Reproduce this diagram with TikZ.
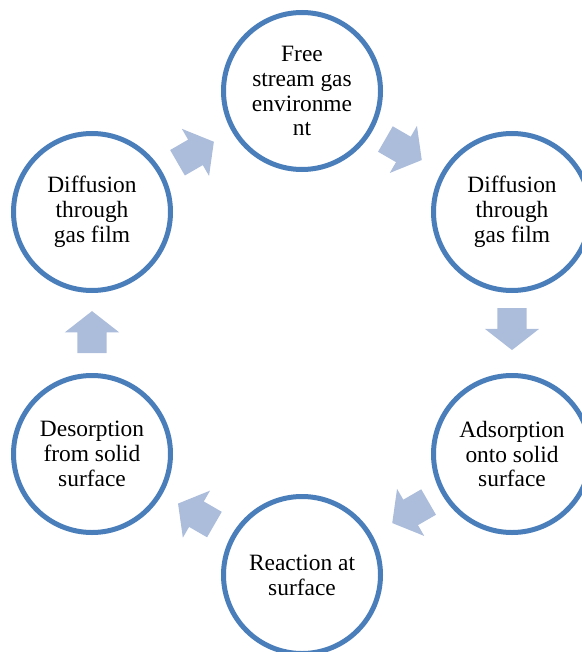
\documentclass[tikz,border=0pt]{standalone}
\usepackage{fontspec}
\setmainfont{Liberation Serif}
\usetikzlibrary{shapes.arrows,calc}
\definecolor{ringblue}{RGB}{74,126,187}
\definecolor{flowblue}{RGB}{172,189,220}

\begin{document}
\begin{tikzpicture}[x=1bp, y=-1bp,
  stage/.style={circle, draw=ringblue, line width=5bp, fill=white,
    minimum size=157bp, inner sep=0pt, align=center,
    font=\fontsize{23.5}{25}\selectfont},
  flow/.style={single arrow, fill=flowblue, draw=none,
    inner xsep=0pt, inner ysep=14.5bp,
    minimum height=42bp, minimum width=54bp,
    single arrow head extend=12.5bp, single arrow tip angle=104}
]
\useasboundingbox (0,0) rectangle (582,652);

% Six stages round the cycle.
\node[stage] (freegas) at (302,91) {Free\\stream gas\\environme\\nt};
\node[stage] (filmright) at (512,212) {Diffusion\\through\\gas film};
\node[stage] (adsorb) at (512,454) {Adsorption\\onto solid\\surface};
\node[stage] (react) at (302,575) {Reaction at\\surface};
\node[stage] (desorb) at (92,454) {Desorption\\from solid\\surface};
\node[stage] (filmleft) at (92,212) {Diffusion\\through\\gas film};

% Block arrows between neighbouring stages.
\node[flow, rotate=-30] (f1) at ($(freegas)!0.46!(filmright)$) {};
\node[flow, rotate=-90] (f2) at ($(filmright)!0.46!(adsorb)$) {};
\node[flow, rotate=-150] (f3) at ($(adsorb)!0.46!(react)$) {};
\node[flow, rotate=150] (f4) at ($(react)!0.48!(desorb)$) {};
\node[flow, rotate=90] (f5) at ($(desorb)!0.48!(filmleft)$) {};
\node[flow, rotate=30] (f6) at ($(filmleft)!0.47!(freegas)$) {};

\end{tikzpicture}
\end{document}
